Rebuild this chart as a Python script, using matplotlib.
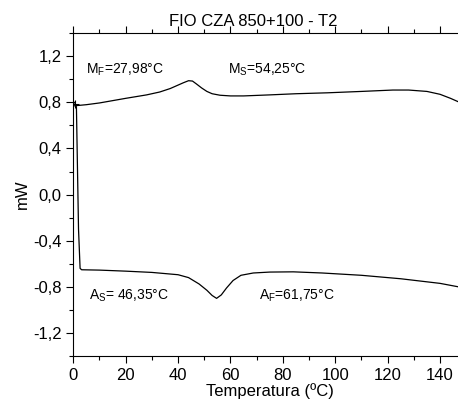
"""DSC curve FIO CZA 850+100 - T2"""
import matplotlib
matplotlib.use("Agg")
import matplotlib.pyplot as plt
from matplotlib.ticker import MultipleLocator, FuncFormatter

plt.rcParams["font.family"] = ["Liberation Sans", "DejaVu Sans"]
plt.rcParams["mathtext.default"] = "regular"

# cooling curve (upper)
cool_t = [0.3, 5, 10, 20, 28, 33, 37, 40, 42, 44, 45.5, 47, 49, 51, 53, 56, 60, 65,
          75, 85, 97, 110, 122, 128, 135, 140, 144, 147]
cool_mw = [0.77, 0.78, 0.795, 0.835, 0.865, 0.89, 0.92, 0.95, 0.97, 0.988, 0.985, 0.96,
           0.925, 0.895, 0.875, 0.862, 0.856, 0.856, 0.865, 0.875, 0.883, 0.895, 0.907,
           0.907, 0.895, 0.87, 0.835, 0.805]

# heating curve (lower)
heat_t = [0.5, 1.2, 2.0, 2.6, 3.2, 10, 20, 30, 40, 44, 48, 51, 53, 54.7, 56.5, 58.5,
          61, 64, 68.7, 75, 84, 95, 110, 125, 140, 147]
heat_mw = [0.80, 0.76, -0.3, -0.64, -0.652, -0.655, -0.664, -0.675, -0.695, -0.72,
           -0.775, -0.83, -0.875, -0.9, -0.87, -0.81, -0.745, -0.7, -0.68, -0.672,
           -0.67, -0.68, -0.70, -0.73, -0.77, -0.80]

fig = plt.figure(figsize=(4.58, 4.05), dpi=100)
ax = fig.add_axes([0.160, 0.121, 0.858, 0.797])

ax.plot(cool_t, cool_mw, color="black", lw=0.9)
ax.plot(heat_t, heat_mw, color="black", lw=0.9)
ax.plot([0.6], [0.785], marker="+", color="black", ms=6, mew=0.8)

ax.set_xlim(0, 150)
ax.set_ylim(-1.4, 1.4)
ax.xaxis.set_major_locator(MultipleLocator(20))
ax.xaxis.set_minor_locator(MultipleLocator(10))
ax.yaxis.set_major_locator(MultipleLocator(0.4))
ax.yaxis.set_minor_locator(MultipleLocator(0.2))
ax.yaxis.set_major_formatter(FuncFormatter(lambda v, p: f"{v:.1f}".replace(".", ",").replace("-0,0", "0,0")))

ax.tick_params(which="both", direction="out", top=True, right=False, labelsize=12, width=0.8)
ax.tick_params(which="major", length=5)
ax.tick_params(which="minor", length=3)
ax.spines["right"].set_visible(False)
for s in ax.spines.values():
    s.set_linewidth(0.8)

ax.set_xlabel("Temperatura (ºC)", fontsize=12, labelpad=0)
ax.set_ylabel("mW", fontsize=12, labelpad=2)
fig.text(0.554, 0.948, "FIO CZA 850+100 - T2", ha="center", va="center", fontsize=12)

ax.text(5, 1.08, "M$_F$=27,98°C", fontsize=10, va="center")
ax.text(59, 1.08, "M$_S$=54,25°C", fontsize=10, va="center")
ax.text(6, -0.88, "A$_S$= 46,35°C", fontsize=10, va="center")
ax.text(71, -0.88, "A$_F$=61,75°C", fontsize=10, va="center")

fig.savefig("out.png", dpi=100)
plt.close()
